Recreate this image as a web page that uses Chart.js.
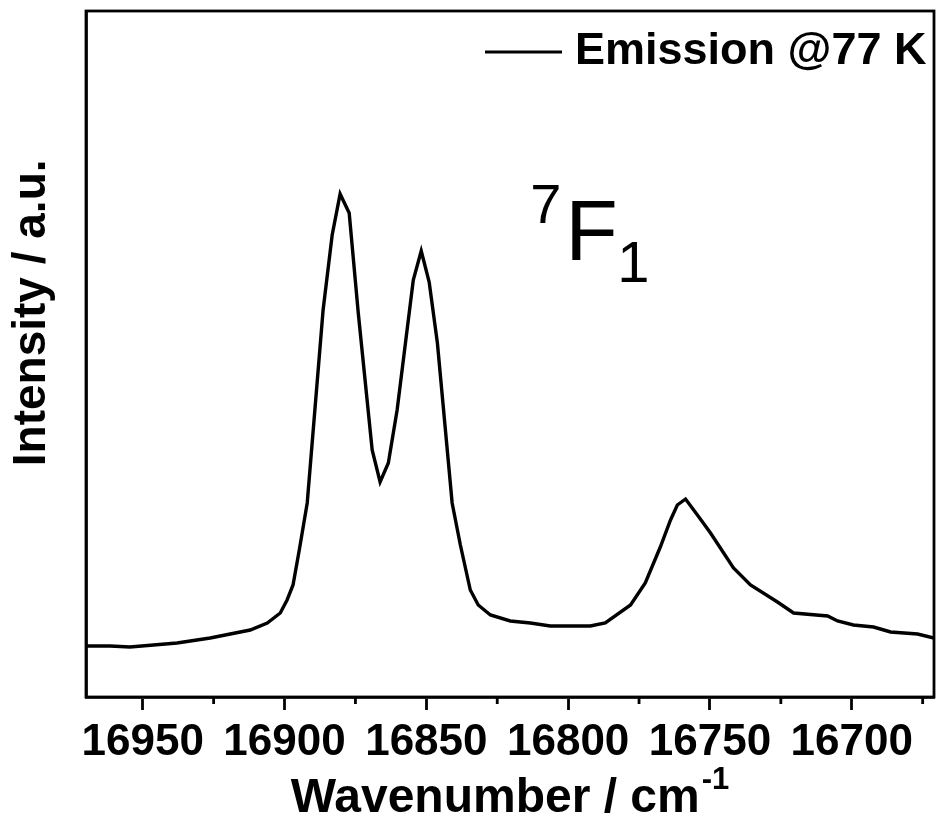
<!DOCTYPE html>
<html>
<head>
<meta charset="utf-8">
<script src="https://cdn.jsdelivr.net/npm/chart.js@4.4.1/dist/chart.umd.min.js"></script>
<style>
  html, body { margin: 0; padding: 0; background: #fff; }
  #wrap { width: 936px; height: 818px; }
</style>
</head>
<body>
<div id="wrap"><canvas id="chart" width="936" height="818"></canvas></div>
<script>
// emission spectrum (arbitrary intensity units)
const wavenumbers = [16970, 16961.5, 16954.5, 16937.9, 16926.2, 16912.1, 16906.1, 16901.5, 16899.1, 16897.0,
  16894.8, 16892.0, 16886.4, 16883.2, 16880.4, 16877.2, 16874.0, 16869.1, 16866.3, 16863.4,
  16860.3, 16854.6, 16851.8, 16849.0, 16846.1, 16840.9, 16838.0, 16834.5, 16831.7, 16827.4,
  16820.4, 16813.3, 16806.3, 16799.2, 16792.2, 16786.9, 16778.0, 16772.8, 16767.5, 16763.9,
  16761.5, 16758.6, 16753.9, 16749.8, 16741.7, 16735.7, 16726.2, 16720.5, 16708.5, 16705.0,
  16699.4, 16692.3, 16686.3, 16676.8, 16671];
const intensity = [51, 51, 50, 54, 59, 67, 74, 84, 97, 112,
  147, 194, 387, 462, 503, 484, 384, 247, 215, 234,
  287, 417, 446, 415, 354, 194, 152, 107, 92, 82,
  76, 74, 71, 71, 71, 74, 92, 114, 150, 177,
  192, 198, 180, 164, 129, 112, 95, 84, 81, 76,
  72, 70, 65, 63, 59];
const majorTicks = [16950, 16900, 16850, 16800, 16750, 16700];
const minorTicks = [16925, 16875, 16825, 16775, 16725, 16675];
const xRange = [16671, 16970];
const yRange = [0, 686];
const seriesLabel = 'Emission @77 K';

const FONT = '"Liberation Sans", Arial, sans-serif';

const extras = {
  id: 'extras',
  afterDraw(chart) {
    const { ctx, chartArea: a, scales } = chart;
    const xs = scales.x, ys = scales.y;
    ctx.save();
    ctx.strokeStyle = '#000';
    ctx.lineWidth = 2.8;
    ctx.strokeRect(a.left, a.top, a.right - a.left, a.bottom - a.top);

    // minor ticks
    ctx.beginPath();
    minorTicks.forEach(v => {
      const px = xs.getPixelForValue(v);
      ctx.moveTo(px, a.bottom);
      ctx.lineTo(px, a.bottom + 7);
    });
    ctx.stroke();

    ctx.fillStyle = '#000';
    // x title with superscript
    const mainFont = 'bold 48px ' + FONT;
    const supFont = 'bold 31px ' + FONT;
    const main = 'Wavenumber / cm';
    ctx.font = mainFont;
    const wMain = ctx.measureText(main).width;
    ctx.font = supFont;
    const wSup = ctx.measureText('-1').width;
    const cx = (a.left + a.right) / 2;
    const sx = cx - (wMain + wSup + 2) / 2;
    ctx.textAlign = 'left';
    ctx.textBaseline = 'alphabetic';
    ctx.font = mainFont;
    ctx.fillText(main, sx, 812);
    ctx.font = supFont;
    ctx.fillText('-1', sx + wMain + 2, 789);

    // y title
    ctx.save();
    ctx.translate(32, a.top + (a.bottom - a.top) * 0.44);
    ctx.rotate(-Math.PI / 2);
    ctx.font = 'bold 46px ' + FONT;
    ctx.textAlign = 'center';
    ctx.textBaseline = 'middle';
    ctx.fillText('Intensity / a.u.', 0, 0);
    ctx.restore();

    // legend
    ctx.beginPath();
    ctx.lineWidth = 3;
    ctx.moveTo(485, 52);
    ctx.lineTo(562, 52);
    ctx.stroke();
    ctx.font = 'bold 45px ' + FONT;
    ctx.textAlign = 'left';
    ctx.textBaseline = 'alphabetic';
    ctx.fillText(chart.data.datasets[0].label, 575, 64);

    // 7F1 annotation
    const fx = xs.getPixelForValue(16801);
    const fy = ys.getPixelForValue(437);
    ctx.font = '86px ' + FONT;
    ctx.fillText('F', fx, fy);
    ctx.font = '56px ' + FONT;
    ctx.fillText('7', fx - 35, fy - 37);
    ctx.font = '58px ' + FONT;
    ctx.fillText('1', fx + 52, fy + 22);
    ctx.restore();
  }
};

new Chart(document.getElementById('chart').getContext('2d'), {
  type: 'line',
  data: {
    datasets: [{
      label: seriesLabel,
      data: wavenumbers.map((w, i) => ({ x: w, y: intensity[i] })),
      borderColor: '#000',
      borderWidth: 3.4,
      pointRadius: 0,
      tension: 0,
      fill: false,
    }],
  },
  options: {
    responsive: false,
    animation: false,
    layout: { padding: { top: 11, right: 2, left: 0, bottom: 0 } },
    plugins: { legend: { display: false }, tooltip: { enabled: false } },
    scales: {
      x: {
        type: 'linear',
        reverse: true,
        min: xRange[0],
        max: xRange[1],
        afterFit(scale) { scale.height = 121; },
        afterBuildTicks(scale) {
          scale.ticks = majorTicks.map(v => ({ value: v }));
        },
        ticks: {
          autoSkip: false,
          maxRotation: 0,
          padding: 6,
          color: '#000',
          font: { family: FONT, size: 44, weight: 'bold' },
          callback: v => String(v),
        },
        grid: {
          drawOnChartArea: false,
          tickLength: 13,
          tickWidth: 2.8,
          tickColor: '#000',
        },
        border: { display: true, color: '#000', width: 2.8 },
      },
      y: {
        min: yRange[0],
        max: yRange[1],
        afterFit(scale) { scale.width = 86; },
        ticks: { display: false },
        grid: { display: false },
        border: { display: true, color: '#000', width: 2.8 },
      },
    },
  },
  plugins: [extras],
});
</script>
</body>
</html>
